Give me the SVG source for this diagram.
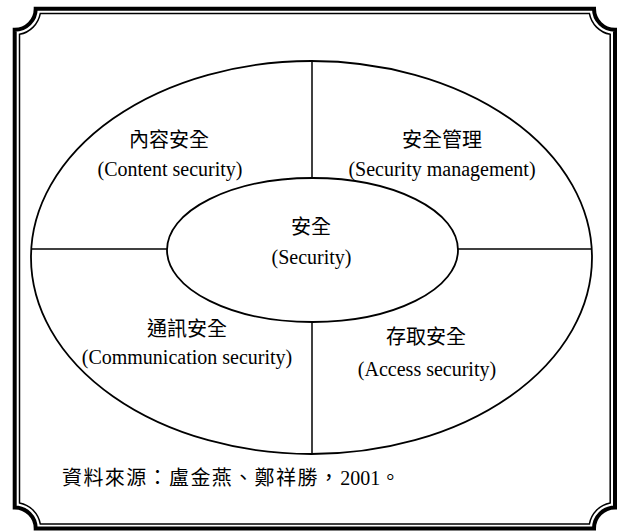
<svg xmlns="http://www.w3.org/2000/svg" width="621" height="531" viewBox="0 0 621 531">
<style>
.frame-outer{fill:none;stroke:#000;stroke-width:4}
.frame-inner{fill:none;stroke:#000;stroke-width:1.5}
.ell{fill:none;stroke:#000;stroke-width:1.8}
.conn{stroke:#000;stroke-width:1.5;fill:none}
.zh{font-family:"Noto Sans CJK TC","Noto Sans CJK SC",sans-serif;font-size:20px;fill:#000;text-anchor:middle}
.en{font-family:"Liberation Serif","Times New Roman",serif;font-size:20px;fill:#000;text-anchor:middle}
.note{font-family:"Liberation Serif","Noto Sans CJK TC",serif;font-size:20px;fill:#000}
</style>
<rect width="621" height="531" fill="#fff"/>
<g id="frame">
<path class="frame-outer" d="M35.7,8.8 H594 A21,21 0 0 0 615,29.8 V507.5 A21,21 0 0 0 594,528.5 H35.7 A21,21 0 0 0 14.7,507.5 V29.8 A21,21 0 0 0 35.7,8.8 Z"/>
<path class="frame-inner" d="M40.3,13.4 H589.4 A26,26 0 0 0 610.2,34.35 V502.95 A26,26 0 0 0 589.4,524 H40.3 A26,26 0 0 0 19.5,502.95 V34.35 A26,26 0 0 0 40.3,13.4 Z"/>
</g>
<g id="outer-ellipse">
<ellipse class="ell" cx="311.5" cy="257.5" rx="280.5" ry="196.5"/>
</g>
<g id="connectors">
<line class="conn" x1="312" y1="61" x2="312" y2="178"/>
<line class="conn" x1="312" y1="322" x2="312" y2="454"/>
<line class="conn" x1="31" y1="249" x2="167" y2="249"/>
<line class="conn" x1="458" y1="249" x2="592" y2="249"/>
</g>
<g id="security">
<ellipse class="ell" cx="312.5" cy="250" rx="145.5" ry="72"/>
<text class="zh" x="311" y="234">安全</text>
<text class="en" x="311.5" y="264">(Security)</text>
</g>
<g id="content-security">
<text class="zh" x="169" y="147">內容安全</text>
<text class="en" x="170" y="176">(Content security)</text>
</g>
<g id="security-management">
<text class="zh" x="442" y="147">安全管理</text>
<text class="en" x="442" y="176">(Security management)</text>
</g>
<g id="communication-security">
<text class="zh" x="187" y="336">通訊安全</text>
<text class="en" x="187" y="364">(Communication security)</text>
</g>
<g id="access-security">
<text class="zh" x="426" y="344">存取安全</text>
<text class="en" x="427" y="376">(Access security)</text>
</g>
<g id="source">
<text class="note" x="62" y="485"><tspan font-family="Noto Sans CJK TC, sans-serif" letter-spacing="1.4">資料來源：盧金燕、鄭祥勝，</tspan><tspan>2001</tspan><tspan font-family="Noto Sans CJK TC, sans-serif">。</tspan></text>
</g>
</svg>
